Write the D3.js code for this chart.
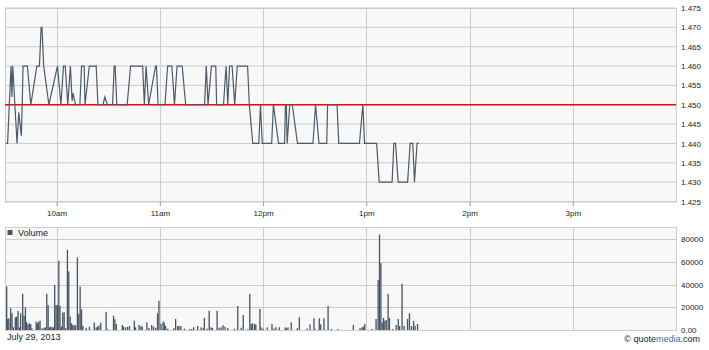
<!DOCTYPE html>
<html>
<head>
<meta charset="utf-8">
<script src="https://cdn.jsdelivr.net/npm/d3@7"></script>
<style>
	body { margin: 0; background: #fff; }
	text { font-family: "Liberation Sans", Arial, sans-serif; fill: #222; }
</style>
</head>
<body>
<div id="chart"></div>
<script>
// session 9:30 - 16:00, times are minutes after the open
var sessionStart = new Date(2013, 6, 29, 9, 30);
var sessionEnd = new Date(2013, 6, 29, 16, 0);
var prevClose = 1.450;
var priceTicks = [1.425, 1.430, 1.435, 1.440, 1.445, 1.450, 1.455, 1.460, 1.465, 1.470, 1.475];
var volumeTicks = [0, 20000, 40000, 60000, 80000];
var hourLabels = ["10am", "11am", "12pm", "1pm", "2pm", "3pm"];

// [minute, price]
var trades = [
	[0.5, 1.440], [1.5, 1.440], [3.5, 1.460], [4, 1.452], [4.5, 1.460], [7, 1.440], [8, 1.448], [9.5, 1.442], [10, 1.450], [10.5, 1.460],
	[13, 1.460], [15, 1.450], [18.5, 1.460], [20, 1.460], [21, 1.470], [21.5, 1.470], [22.5, 1.460], [25.5, 1.450], [30.5, 1.460], [32.5, 1.450],
	[34, 1.460], [35, 1.460], [36.5, 1.450], [38, 1.460], [39, 1.451], [39.5, 1.453], [41, 1.450], [43.5, 1.450], [44.5, 1.460], [46, 1.460],
	[46.5, 1.450], [49, 1.460], [53, 1.460], [54, 1.450], [57, 1.450], [58, 1.452], [59.5, 1.450], [62.5, 1.450], [63.5, 1.460], [64, 1.460],
	[65, 1.450], [71, 1.450], [73, 1.460], [80, 1.460], [81, 1.450], [82, 1.460], [83.5, 1.450], [87.5, 1.460], [88, 1.460], [89, 1.450],
	[93, 1.450], [94.5, 1.460], [97, 1.460], [98.5, 1.450], [100, 1.460], [103, 1.460], [105, 1.450], [116, 1.450], [117, 1.460], [118, 1.450],
	[120, 1.460], [122.5, 1.460], [123, 1.450], [127, 1.450], [128.5, 1.460], [129.5, 1.450], [130.5, 1.460], [132, 1.460], [133.5, 1.450], [135, 1.460],
	[141, 1.460], [142, 1.450], [144, 1.440], [147.5, 1.440], [148.5, 1.450], [149.5, 1.440], [155, 1.440], [156, 1.450], [159, 1.440], [162.5, 1.440],
	[163, 1.450], [163.5, 1.450], [164, 1.440], [165.5, 1.450], [167, 1.450], [170, 1.440], [179, 1.440], [180.5, 1.450], [182.5, 1.440], [187, 1.440],
	[187.5, 1.450], [193, 1.450], [194, 1.440], [206, 1.440], [208, 1.450], [209, 1.440], [216, 1.440], [217.5, 1.430], [225, 1.430], [226, 1.440],
	[227, 1.440], [228.5, 1.430], [234, 1.430], [235.5, 1.440], [237, 1.440], [238, 1.430], [239.5, 1.440], [240.5, 1.440]
];

// [minute, shares]
var volumes = [
	[0.6, 38200], [1.2, 9700], [1.9, 10300], [2.9, 19100], [3.7, 14700], [4.5, 2350], [5.6, 11200], [6.4, 11800], [7.2, 16800], [8.0, 2350],
	[8.7, 14700], [9.9, 31800], [10.7, 12600], [11.5, 20000], [12.2, 6800], [13.0, 5000], [13.8, 5900], [14.6, 5000], [15.3, 1500], [17.7, 7400],
	[18.4, 5900], [19.2, 7400], [20.0, 8200], [21.2, 1500], [22.3, 2000], [23.1, 2350], [23.9, 31800], [24.7, 22000], [25.4, 2350], [26.2, 2900],
	[27.0, 2350], [27.8, 2350], [28.5, 39700], [29.3, 22000], [30.1, 22000], [30.9, 60900], [31.6, 21200], [32.4, 2900], [33.2, 15300], [34.0, 15600],
	[34.8, 1500], [35.9, 70600], [36.7, 51500], [37.5, 11800], [38.3, 5900], [39.0, 4400], [39.8, 4100], [40.6, 4100], [41.7, 63800], [42.5, 14100],
	[43.3, 38200], [44.1, 18200], [44.9, 3500], [46.8, 2000], [48.7, 2900], [51.5, 6500], [52.6, 2350], [53.4, 2900], [54.2, 4100], [55.3, 6500],
	[58.4, 15900], [59.2, 600], [62.7, 12600], [63.5, 9400], [64.3, 5300], [67.8, 4400], [68.5, 2900], [69.7, 2350], [70.9, 2900], [72.0, 3500],
	[74.8, 8200], [75.5, 2350], [77.5, 4400], [78.6, 3500], [79.4, 2900], [82.1, 6800], [83.3, 1800], [84.9, 4400], [86.0, 2900], [87.2, 1800],
	[88.3, 14700], [89.1, 25600], [90.3, 5300], [91.5, 7400], [92.2, 6500], [93.0, 3500], [94.2, 1200], [97.7, 1500], [98.8, 9700], [100.0, 3500],
	[100.8, 3500], [101.9, 3500], [103.9, 1200], [107.0, 900], [108.2, 900], [109.3, 2350], [111.6, 3500], [113.6, 2350], [114.8, 1500], [115.5, 10600],
	[117.1, 1200], [118.3, 17000], [119.4, 2350], [120.2, 1800], [122.9, 16800], [124.1, 2000], [125.2, 2350], [126.4, 4100], [127.5, 2900], [129.1, 1800],
	[133.0, 1200], [134.9, 21200], [136.9, 2000], [138.1, 13200], [140.8, 600], [141.9, 31800], [142.7, 5300], [143.5, 5900], [144.7, 5300], [145.4, 4700],
	[147.8, 18500], [148.5, 2350], [149.7, 1200], [152.0, 2350], [154.8, 5300], [155.9, 1200], [157.1, 2350], [159.0, 2350], [162.5, 2350], [163.3, 1500],
	[164.1, 2350], [166.0, 6800], [169.5, 1500], [170.7, 11200], [175.3, 1200], [176.9, 5000], [179.2, 10300], [180.0, 600], [182.3, 10300], [183.1, 5000],
	[185.0, 10300], [187.4, 21200], [189.3, 900], [193.2, 900], [202.1, 4400], [206.0, 1800], [207.2, 2350], [208.0, 2900], [208.7, 5300], [213.0, 900],
	[215.3, 9700], [216.5, 44100], [217.3, 83800], [218.1, 58800], [218.8, 6500], [219.6, 10600], [220.4, 8200], [221.2, 8800], [222.3, 31800], [223.1, 10600],
	[225.0, 900], [227.0, 4400], [228.2, 9700], [229.0, 3500], [230.4, 40600], [231.6, 3500], [233.6, 9700], [234.7, 14700], [235.9, 3500], [237.1, 7900],
	[238.0, 3500], [239.4, 5300]
];

function toTime(minute) {
	return new Date(sessionStart.getTime() + minute * 60000);
}

var width = 709, height = 350;
var left = 5, right = 676;
var priceTop = 8, priceBottom = 201.5;
var volTop = 227, volBottom = 330;

var svg = d3.select("#chart")
	.append("svg")
	.attr("width", width)
	.attr("height", height);

var x = d3.scaleTime()
	.domain([sessionStart, sessionEnd])
	.range([left, right]);

var y = d3.scaleLinear()
	.domain([1.425, 1.475])
	.range([priceBottom, priceTop]);

var yVol = d3.scaleLinear()
	.domain([0, 80000])
	.range([volBottom, 239]);

var hours = x.ticks(d3.timeHour.every(1)).filter(function (d) {
	return d > sessionStart && d < sessionEnd;
});

// panels
function panel(top, bottom) {
	var g = svg.append("g");
	g.append("rect")
		.attr("x", left + 0.5)
		.attr("y", top + 0.5)
		.attr("width", right - left)
		.attr("height", bottom - top)
		.attr("fill", "#f8f8f8")
		.attr("stroke", "#cccccc");
	g.selectAll("line.v")
		.data(hours)
		.enter()
		.append("line")
		.attr("class", "v")
		.attr("x1", function (d) { return Math.round(x(d)) + 0.5; })
		.attr("x2", function (d) { return Math.round(x(d)) + 0.5; })
		.attr("y1", top)
		.attr("y2", bottom)
		.attr("stroke", "#cccccc");
	return g;
}

var pricePanel = panel(priceTop, priceBottom);
var volPanel = panel(volTop, volBottom);

pricePanel.selectAll("line.h")
	.data(priceTicks)
	.enter()
	.append("line")
	.attr("x1", left)
	.attr("x2", right)
	.attr("y1", function (d) { return y(d); })
	.attr("y2", function (d) { return y(d); })
	.attr("stroke", "#cccccc");

volPanel.selectAll("line.h")
	.data(volumeTicks.slice(1))
	.enter()
	.append("line")
	.attr("x1", left)
	.attr("x2", right)
	.attr("y1", function (d) { return Math.round(yVol(d)) + 0.5; })
	.attr("y2", function (d) { return Math.round(yVol(d)) + 0.5; })
	.attr("stroke", "#cccccc");

// time axis under price panel
var xAxis = d3.axisBottom(x)
	.tickValues(hours)
	.tickSize(4)
	.tickFormat(function (d, i) { return hourLabels[i]; });

var gx = svg.append("g")
	.attr("transform", "translate(0," + (priceBottom + 0.5) + ")")
	.call(xAxis);
gx.select(".domain").remove();
gx.selectAll(".tick line").attr("stroke", "#999");
gx.selectAll(".tick text").attr("y", 8);

// right axes
var yAxis = d3.axisRight(y)
	.tickValues(priceTicks)
	.tickSize(0)
	.tickPadding(5)
	.tickFormat(d3.format(".3f"));
var gy = svg.append("g")
	.attr("transform", "translate(" + right + ",0)")
	.call(yAxis);
gy.select(".domain").remove();

var yVolAxis = d3.axisRight(yVol)
	.tickValues(volumeTicks)
	.tickSize(0)
	.tickPadding(5)
	.tickFormat(function (d) { return d === 0 ? "0.00" : d; });
var gyv = svg.append("g")
	.attr("transform", "translate(" + right + ",0)")
	.call(yVolAxis);
gyv.select(".domain").remove();

svg.selectAll(".tick text")
	.attr("font-family", "Liberation Sans, Arial, sans-serif")
	.attr("font-size", 8)
	.attr("fill", "#222");

// previous close
pricePanel.append("line")
	.attr("x1", left)
	.attr("x2", right)
	.attr("y1", y(prevClose))
	.attr("y2", y(prevClose))
	.attr("stroke", "#ff0000")
	.attr("stroke-width", 1.3);

// price line
var line = d3.line()
	.x(function (d) { return x(toTime(d[0])); })
	.y(function (d) { return y(d[1]); });

pricePanel.append("path")
	.datum(trades)
	.attr("d", line)
	.attr("fill", "none")
	.attr("stroke", "#4d5a68")
	.attr("stroke-width", 1.2);

// volume bars
volPanel.selectAll("rect.bar")
	.data(volumes)
	.enter()
	.append("rect")
	.attr("class", "bar")
	.attr("x", function (d) { return x(toTime(d[0])); })
	.attr("width", 1.3)
	.attr("y", function (d) { return yVol(d[1]); })
	.attr("height", function (d) { return volBottom - yVol(d[1]); })
	.attr("fill", "#465464");

// legend
volPanel.append("rect")
	.attr("x", 7.5)
	.attr("y", 230)
	.attr("width", 5)
	.attr("height", 5)
	.attr("fill", "#465464");
volPanel.append("text")
	.attr("x", 18)
	.attr("y", 236)
	.style("font-size", "9px")
	.text("Volume");

svg.append("text")
	.attr("x", 7)
	.attr("y", 340)
	.style("font-size", "9px")
	.text("July 29, 2013");

var credit = svg.append("text")
	.attr("x", 700)
	.attr("y", 342)
	.attr("text-anchor", "end")
	.style("font-size", "9px");
credit.append("tspan").text("\u00a9 quote");
credit.append("tspan").style("fill", "#3a6fb5").text("media");
credit.append("tspan").text(".com");
</script>
</body>
</html>
